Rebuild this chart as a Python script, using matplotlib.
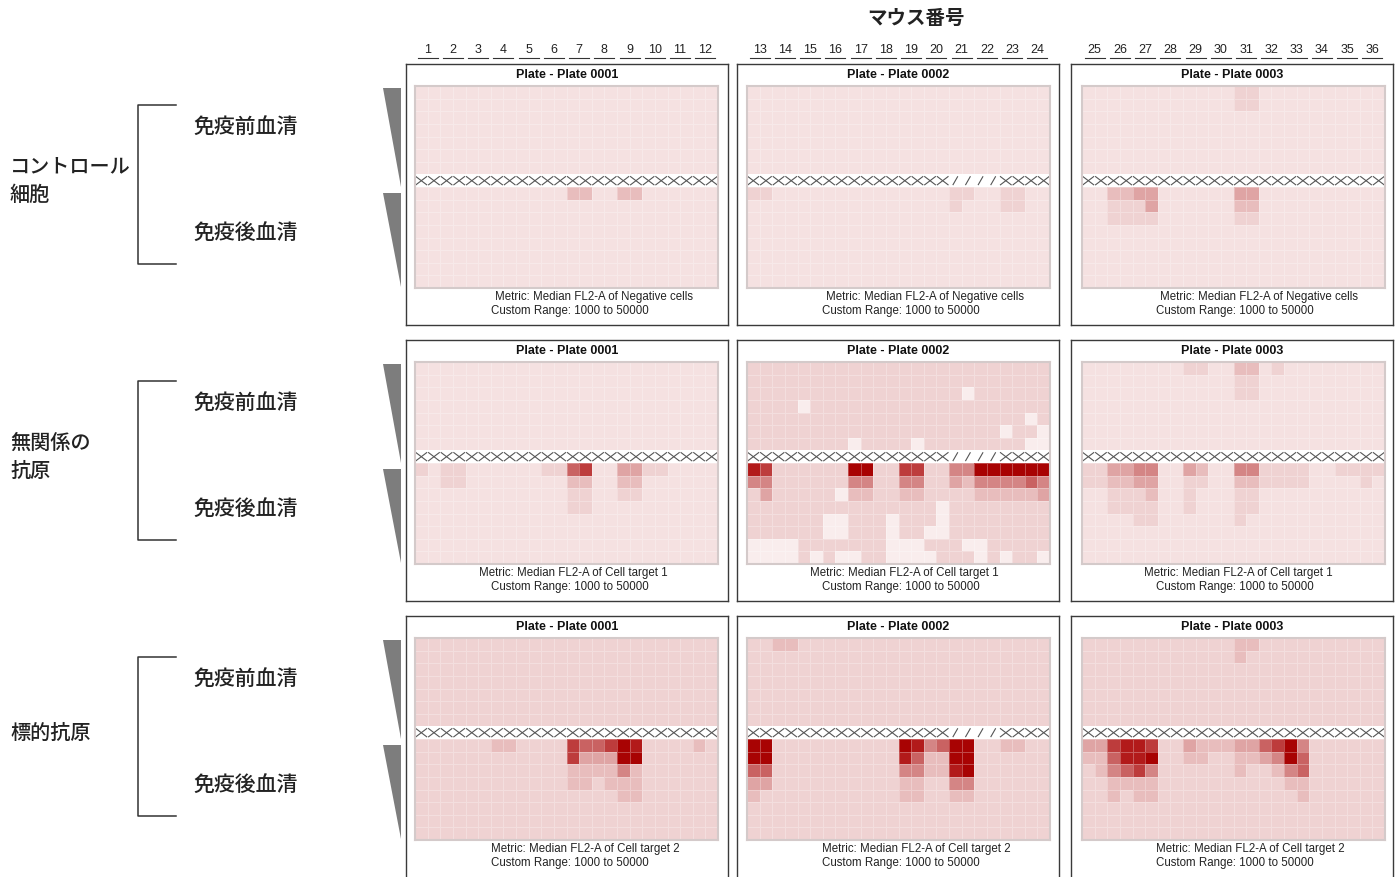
import numpy as np
import matplotlib
matplotlib.use('Agg')
import matplotlib.pyplot as plt
from matplotlib.colors import ListedColormap, BoundaryNorm
from matplotlib.collections import LineCollection
from matplotlib.patches import Polygon
from matplotlib.lines import Line2D
from matplotlib import transforms

plt.rcParams['font.family'] = ['Liberation Sans', 'DejaVu Sans']
JP = ['Noto Sans CJK JP', 'DejaVu Sans']

# ---------------- data ----------------
header_label = 'マウス番号'
mouse_numbers = list(range(1, 37))
plate_titles = ['Plate - Plate 0001', 'Plate - Plate 0002', 'Plate - Plate 0003']
metric_labels = ['Metric: Median FL2-A of Negative cells',
                 'Metric: Median FL2-A of Cell target 1',
                 'Metric: Median FL2-A of Cell target 2']
range_label = 'Custom Range: 1000 to 50000'
group_labels = [['コントロール', '細胞'], ['無関係の', '抗原'], ['標的抗原']]
serum_labels = ['免疫前血清', '免疫後血清']

# signal level per well (0 = lowest, 9 = highest); X and / = excluded wells
level_colors = ['#f9eded', '#f5e1e1', '#efd2d2', '#e8bdbd', '#dfa4a4',
                '#d48585', '#c96262', '#bd3c3c', '#b21a1a', '#a80303']

neg_p1 = [
    "111111111111111111111111",
    "111111111111111111111111",
    "111111111111111111111111",
    "111111111111111111111111",
    "111111111111111111111111",
    "111111111111111111111111",
    "111111111111111111111111",
    "XXXXXXXXXXXXXXXXXXXXXXXX",
    "111111111111331133111111",
    "111111111111111111111111",
    "111111111111111111111111",
    "111111111111111111111111",
    "111111111111111111111111",
    "111111111111111111111111",
    "111111111111111111111111",
    "111111111111111111111111",
]
neg_p2 = [
    "111111111111111111111111",
    "111111111111111111111111",
    "111111111111111111111111",
    "111111111111111111111111",
    "111111111111111111111111",
    "111111111111111111111111",
    "111111111111111111111111",
    "XXXXXXXXXXXXXXXX////XXXX",
    "221111111111111122112211",
    "111111111111111121112211",
    "111111111111111111111111",
    "111111111111111111111111",
    "111111111111111111111111",
    "111111111111111111111111",
    "111111111111111111111111",
    "111111111111111111111111",
]
neg_p3 = [
    "111111111111221111111111",
    "111111111111221111111111",
    "111111111111111111111111",
    "111111111111111111111111",
    "111111111111111111111111",
    "111111111111111111111111",
    "111111111111111111111111",
    "XXXXXXXXXXXXXXXXXXXXXXXX",
    "113344111111441111111111",
    "112224111111331111111111",
    "112222111111221111111111",
    "111111111111111111111111",
    "111111111111111111111111",
    "111111111111111111111111",
    "111111111111111111111111",
    "111111111111111111111111",
]
t1_p1 = [
    "111111111111111111111111",
    "111111111111111111111111",
    "111111111111111111111111",
    "111111111111111111111111",
    "111111111111111111111111",
    "111111111111111111111111",
    "111111111111111111111111",
    "XXXXXXXXXXXXXXXXXXXXXXXX",
    "212211111122671144221111",
    "112211111111331133111111",
    "111111111111221122111111",
    "111111111111221111111111",
    "111111111111111111111111",
    "111111111111111111111111",
    "111111111111111111111111",
    "111111111111111111111111",
]
t1_p2 = [
    "222222222222222222222222",
    "222222222222222222222222",
    "222222222222222220222222",
    "222202222222222222222222",
    "222222222222222222222202",
    "222222222222222222220220",
    "222222220222202222222200",
    "XXXXXXXXXXXXXXXX////XXXX",
    "872222229922772255999999",
    "552222225522552243555565",
    "242222203322332222333334",
    "222222222222222022222222",
    "222222002220222022222222",
    "222222002220220022222222",
    "000022222220002220022222",
    "000020200220000222020220",
]
t1_p3 = [
    "111111112211331211111111",
    "111111111111221111111111",
    "111111111111221111111111",
    "111111111111111111111111",
    "111111111111111111111111",
    "111111111111111111111111",
    "111111111111111111111111",
    "XXXXXXXXXXXXXXXXXXXXXXXX",
    "224455114311552222112222",
    "223344112211332222111121",
    "112223112111221111111111",
    "112222112111221111111111",
    "111122111111211111111111",
    "111111111111111111111111",
    "111111111111111111111111",
    "111111111111111111111111",
]
t2_p1 = [
    "222222222222222222222222",
    "222222222222222222222222",
    "222222222222222222222222",
    "222222222222222222222222",
    "222222222222222222222222",
    "222222222222222222222222",
    "222222222222222222222222",
    "XXXXXXXXXXXXXXXXXXXXXXXX",
    "222222332222766798222232",
    "222222222222744499222222",
    "222222222222333353222222",
    "222222222222332333222222",
    "222222222222222233222222",
    "222222222222222222222222",
    "222222222222222222222222",
    "222222222222222222222222",
]
t2_p2 = [
    "223322222222222222222222",
    "222222222222222222222222",
    "222222222222222222222222",
    "222222222222222222222222",
    "222222222222222222222222",
    "222222222222222222222222",
    "222222222222222222222222",
    "XXXXXXXXXXXXXXXX////XXXX",
    "992222222222985699223322",
    "992222222222863399222222",
    "662222222222553389222222",
    "442222222222332255222222",
    "322222222222332233222222",
    "222222222222222222222222",
    "222222222222222222222222",
    "222222222222222222222222",
]
t2_p3 = [
    "222222222222332222222222",
    "222222222222322222222222",
    "222222222222222222222222",
    "222222222222222222222222",
    "222222222222222222222222",
    "222222222222222222222222",
    "222222222222222222222222",
    "XXXXXXXXXXXXXXXXXXXXXXXX",
    "447887224333446795222222",
    "336889223322334596222222",
    "235675222222322356222222",
    "223333222222222233222222",
    "223233222222222223222222",
    "222222222222222222222222",
    "222222222222222222222222",
    "222222222222222222222222",
]
plates = [[neg_p1, neg_p2, neg_p3], [t1_p1, t1_p2, t1_p3], [t2_p1, t2_p2, t2_p3]]

# ---------------- layout (pixels) ----------------
W, H = 1398, 877
box_lefts = [406, 737, 1071]
box_w = 322
box_tops = [64, 340, 616]
box_h = 261
heat_lefts = [415, 747, 1082]
heat_w, heat_h = 303, 202
metric_off = [89, 73, 85]
range_off = 85


def fx(x):
    return x / W


def fy(y):
    return 1 - y / H


fig = plt.figure(figsize=(W / 100, H / 100), dpi=100)
fig.patch.set_facecolor('white')

cmap = ListedColormap(level_colors)
cmap.set_bad('white')
norm = BoundaryNorm(np.arange(-0.5, len(level_colors) + 0.5, 1), cmap.N)

for r in range(3):
    for p in range(3):
        bt = box_tops[r]
        bh = box_h if r < 2 else box_h + 6
        bx = fig.add_axes([fx(box_lefts[p]), fy(bt + bh), box_w / W, bh / H])
        bx.set_xticks([])
        bx.set_yticks([])
        for s in bx.spines.values():
            s.set_color('#3a3a3a')
            s.set_linewidth(1.0)
        fig.text(fx(box_lefts[p] + box_w / 2), fy(bt + 11), plate_titles[p],
                 ha='center', va='center', fontsize=9, fontweight='bold', color='#111111')
        fig.text(fx(box_lefts[p] + metric_off[r]), fy(bt + 233), metric_labels[r],
                 ha='left', va='center', fontsize=8.3, color='#222222')
        fig.text(fx(box_lefts[p] + range_off), fy(bt + 247), range_label,
                 ha='left', va='center', fontsize=8.3, color='#222222')

        plate = plates[r][p]
        assert len(plate) == 16 and all(len(row) == 24 for row in plate)
        vals = np.array([[int(ch) if ch.isdigit() else -1 for ch in row] for row in plate], float)
        masked = np.ma.masked_less(vals, 0)

        hx = fig.add_axes([fx(heat_lefts[p]), fy(bt + 22 + heat_h), heat_w / W, heat_h / H])
        hx.set_facecolor('white')
        hx.pcolormesh(np.arange(25), np.arange(17), masked, cmap=cmap, norm=norm,
                      edgecolors=(1, 1, 1, 0.28), linewidth=0.5)
        hx.set_xlim(0, 24)
        hx.set_ylim(16, 0)
        hx.set_xticks([])
        hx.set_yticks([])
        for s in hx.spines.values():
            s.set_color('#d4caca')
            s.set_linewidth(1.5)

        segs = []
        for ri, row in enumerate(plate):
            for ci, ch in enumerate(row):
                if ch == 'X':
                    segs.append([(ci + 0.04, ri + 0.15), (ci + 0.96, ri + 0.85)])
                    segs.append([(ci + 0.04, ri + 0.85), (ci + 0.96, ri + 0.15)])
                elif ch == '/':
                    segs.append([(ci + 0.3, ri + 0.85), (ci + 0.7, ri + 0.15)])
        hx.add_collection(LineCollection(segs, colors='#555555', linewidths=0.8))

        if r == 0:
            tr = transforms.blended_transform_factory(hx.transData, fig.transFigure)
            for i in range(12):
                num = mouse_numbers[p * 12 + i]
                cx = 2 * i + 1
                hx.text(cx, fy(50), str(num), transform=tr, ha='center', va='center',
                        fontsize=9, color='#222222', clip_on=False)
                hx.add_line(Line2D([cx - 0.8, cx + 0.8], [fy(58), fy(58)], transform=tr,
                                   color='#333333', lw=0.8, clip_on=False))

# header
fig.text(fx(916), fy(18), header_label, ha='center', va='center', fontsize=14,
         fontweight='bold', family=JP, color='#222222')

# left annotation
for r in range(3):
    off = 276 * r
    lines = group_labels[r]
    if len(lines) == 2:
        ys = [167 + off, 195 + off]
    else:
        ys = [181 + off]
    for t, yy in zip(lines, ys):
        fig.text(fx(10), fy(yy), t, ha='left', va='center', fontsize=14.5,
                 family=JP, fontweight='medium', color='#222222')
    fig.text(fx(193), fy(128 + off), serum_labels[0], ha='left', va='center',
             fontsize=15, family=JP, fontweight='medium', color='#222222')
    fig.text(fx(193), fy(234 + off), serum_labels[1], ha='left', va='center',
             fontsize=15, family=JP, fontweight='medium', color='#222222')
    # bracket
    top, bot = 105 + off, 264 + off
    fig.add_artist(Line2D([fx(176), fx(138), fx(138), fx(176)],
                          [fy(top), fy(top), fy(bot), fy(bot)],
                          transform=fig.transFigure, color='#333333', lw=1.1))
    # dilution wedges
    for t, b in [(88 + off, 187 + off), (193 + off, 287 + off)]:
        fig.add_artist(Polygon([(fx(383), fy(t)), (fx(401), fy(t)), (fx(401), fy(b))],
                               closed=True, transform=fig.transFigure,
                               facecolor='#7d7d7d', edgecolor='none'))

fig.savefig('out.png', dpi=100, facecolor='white')
